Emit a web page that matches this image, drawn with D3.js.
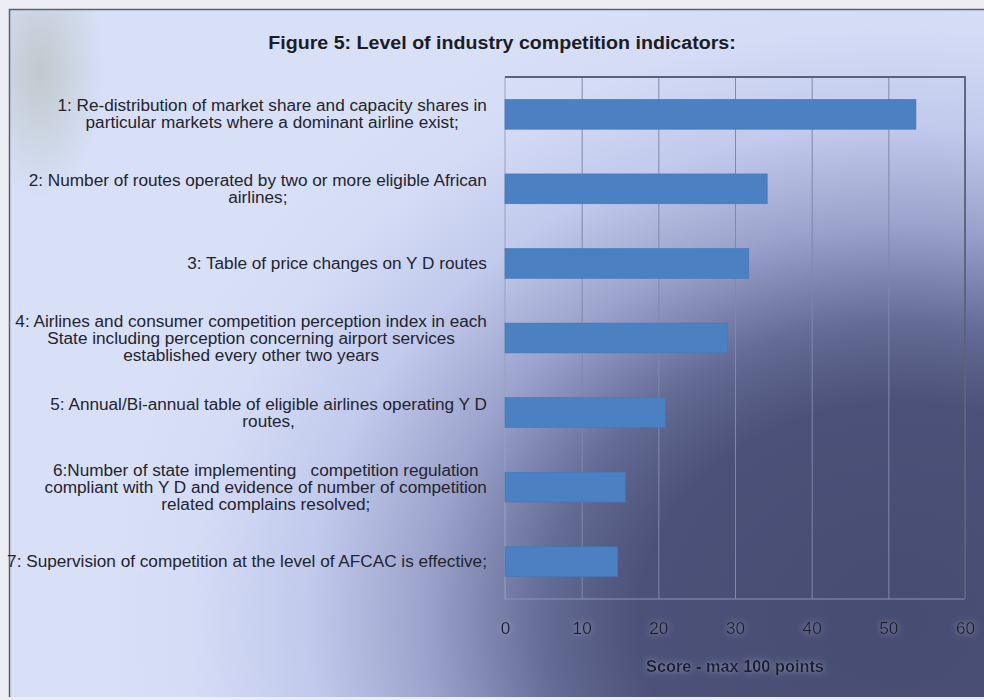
<!DOCTYPE html>
<html>
<head>
<meta charset="utf-8">
<script src="https://cdn.jsdelivr.net/npm/d3@7"></script>
<style>
  html, body { margin: 0; padding: 0; background: #eceef4; }
  svg { display: block; }
  text { font-family: "Liberation Sans Narrow", "Liberation Sans", Arial, sans-serif; white-space: pre; }
</style>
</head>
<body>
<div id="chart"></div>
<script>
// Indicator labels (one array of lines per indicator)
const categories = [
  ["1: Re-distribution of market share and capacity shares in", "particular markets where a dominant airline exist;"],
  ["2: Number of routes operated by two or more eligible African", "airlines;"],
  ["3: Table of price changes on Y D routes"],
  ["4: Airlines and consumer competition perception index in each", "State including perception concerning airport services", "established every other two years"],
  ["5: Annual/Bi-annual table of eligible airlines operating Y D", "routes,"],
  ["6:Number of state implementing   competition regulation", "compliant with Y D and evidence of number of competition", "related complains resolved;"],
  ["7: Supervision of competition at the level of AFCAC is effective;"]
];
// Score of each indicator
const scores = [53.6, 34.2, 31.8, 29.0, 20.9, 15.7, 14.7];
// Score axis
const tickValues = [0, 10, 20, 30, 40, 50, 60];
const gridValues = [10, 20, 30, 40, 50, 60];
const title = "Figure 5: Level of industry competition indicators:";
const axisTitle = "Score - max 100 points";

const W = 984, H = 700;
const plot = { left: 505, right: 965, top: 77, bottom: 599 };

const svg = d3.select("#chart").append("svg").attr("width", W).attr("height", H);
const defs = svg.append("defs");

// Background shading: pale lavender that deepens into slate blue towards the lower right
const bg = defs.append("radialGradient").attr("id", "bgShade")
  .attr("gradientUnits", "userSpaceOnUse")
  .attr("cx", 900).attr("cy", 620).attr("r", 660)
  .attr("fx", 900).attr("fy", 620)
  .attr("gradientTransform", "translate(900,620) scale(1.2,1) translate(-900,-620)");
[[0, "#474c72"], [0.33, "#4b5178"], [0.45, "#646b94"], [0.6, "#9ba3cc"], [0.75, "#c2caed"], [0.9, "#d4dcf6"], [1, "#d8e0f8"]]
  .forEach(([o, c]) => bg.append("stop").attr("offset", o).attr("stop-color", c));

const greenTint = defs.append("radialGradient").attr("id", "greenTint")
  .attr("gradientUnits", "userSpaceOnUse")
  .attr("cx", 40).attr("cy", 70).attr("r", 130)
  .attr("gradientTransform", "translate(40,70) scale(0.5,1) translate(-40,-70)");
[[0, 0.45], [0.6, 0.18], [1, 0]]
  .forEach(([o, a]) => greenTint.append("stop").attr("offset", o).attr("stop-color", "#a3af98").attr("stop-opacity", a));

// Soft light glow behind the axis lettering
const halo = defs.append("filter").attr("id", "halo").attr("x", "-50%").attr("y", "-50%").attr("width", "200%").attr("height", "200%");
halo.append("feGaussianBlur").attr("in", "SourceAlpha").attr("stdDeviation", 3).attr("result", "blurred");
halo.append("feFlood").attr("flood-color", "#c9cfec").attr("flood-opacity", 0.55).attr("result", "col");
halo.append("feComposite").attr("in", "col").attr("in2", "blurred").attr("operator", "in").attr("result", "glow");
const hm = halo.append("feMerge");
hm.append("feMergeNode").attr("in", "glow");
hm.append("feMergeNode").attr("in", "SourceGraphic");

// Chart area
svg.append("rect").attr("x", 9).attr("y", 9).attr("width", W - 9).attr("height", 688).attr("fill", "url(#bgShade)");
svg.append("rect").attr("x", 9).attr("y", 9).attr("width", W - 9).attr("height", 688).attr("fill", "url(#greenTint)");
svg.append("path").attr("d", `M9.5,697 V9.5 H${W}`).attr("fill", "none").attr("stroke", "#5e6066").attr("stroke-width", 1.5);

// Scales
const x = d3.scaleLinear().domain([0, 60]).range([plot.left, plot.right]);
const y = d3.scaleBand().domain(d3.range(categories.length)).range([plot.top, plot.bottom])
  .paddingInner(0.6).paddingOuter(0.3);

// Vertical gridlines
const grid = svg.append("g").attr("transform", `translate(0,${plot.bottom})`)
  .call(d3.axisBottom(x).tickValues(gridValues).tickSize(-(plot.bottom - plot.top)).tickFormat(""));
grid.select(".domain").remove();
grid.selectAll("line").attr("stroke", "#8088ab").attr("stroke-width", 1);

// Plot frame
svg.append("line").attr("x1", plot.left).attr("x2", plot.left).attr("y1", plot.top).attr("y2", plot.bottom)
  .attr("stroke", "#9aa0bd").attr("stroke-width", 1);
svg.append("line").attr("x1", plot.left).attr("x2", plot.right).attr("y1", plot.bottom).attr("y2", plot.bottom)
  .attr("stroke", "#8d93b3").attr("stroke-width", 1);
svg.append("path").attr("d", `M${plot.left},${plot.top} H${plot.right} V${plot.bottom}`)
  .attr("fill", "none").attr("stroke", "#5c6178").attr("stroke-width", 1.8);

// Bars
svg.append("g").selectAll("rect").data(scores).join("rect")
  .attr("x", x(0))
  .attr("y", (d, i) => y(i))
  .attr("width", d => x(d) - x(0))
  .attr("height", y.bandwidth())
  .attr("fill", "#4b80c2")
  .attr("stroke", "#4477b6")
  .attr("stroke-width", 0.6);

// Horizontal squeeze factor for the narrow lettering, fitted on the longest label
const fs = 16;
const probe = svg.append("text").attr("font-size", fs).text(categories[6][0]);
const sx = 480 / probe.node().getComputedTextLength();
probe.remove();

// Category labels: block right-aligned next to the plot, lines centred within the block
const labelRight = 487, lineH = 17;
const labels = svg.append("g");
categories.forEach((lines, i) => {
  const g = labels.append("g");
  const cy = y(i) + y.bandwidth() / 2;
  const texts = lines.map((ln, j) => g.append("text")
    .attr("font-size", fs).attr("fill", "#24242c")
    .attr("text-anchor", "middle")
    .attr("y", cy + (j - (lines.length - 1) / 2) * lineH)
    .attr("dy", "0.35em")
    .text(ln));
  const maxW = d3.max(texts, t => t.node().getComputedTextLength());
  texts.forEach(t => t.attr("x", -maxW / 2));
  g.attr("transform", `translate(${labelRight},0) scale(${sx},1)`);
});

// Score axis numbers
const ax = svg.append("g").attr("transform", `translate(0,${plot.bottom})`)
  .call(d3.axisBottom(x).tickValues(tickValues).tickSize(0).tickPadding(24));
ax.select(".domain").remove();
ax.selectAll("text")
  .attr("font-size", 16)
  .attr("font-family", "\"Liberation Sans Narrow\", \"Liberation Sans\", Arial, sans-serif")
  .attr("fill", "#1c1e2e")
  .attr("transform", `scale(${sx},1)`)
  .attr("filter", "url(#halo)");

// Axis title
const at = svg.append("text").attr("font-size", 16).attr("font-weight", "bold").attr("fill", "#1a1d30")
  .attr("text-anchor", "middle").text(axisTitle).attr("filter", "url(#halo)");
const atW = at.node().getComputedTextLength();
at.attr("transform", `translate(${(plot.left + plot.right) / 2},672) scale(${178 / atW},1)`);

// Chart title
const tt = svg.append("text").attr("font-size", 19).attr("font-weight", "bold").attr("fill", "#1c1c24")
  .attr("text-anchor", "middle").text(title);
const ttW = tt.node().getComputedTextLength();
tt.attr("transform", `translate(502,49) scale(${468 / ttW},1)`);
</script>
</body>
</html>
